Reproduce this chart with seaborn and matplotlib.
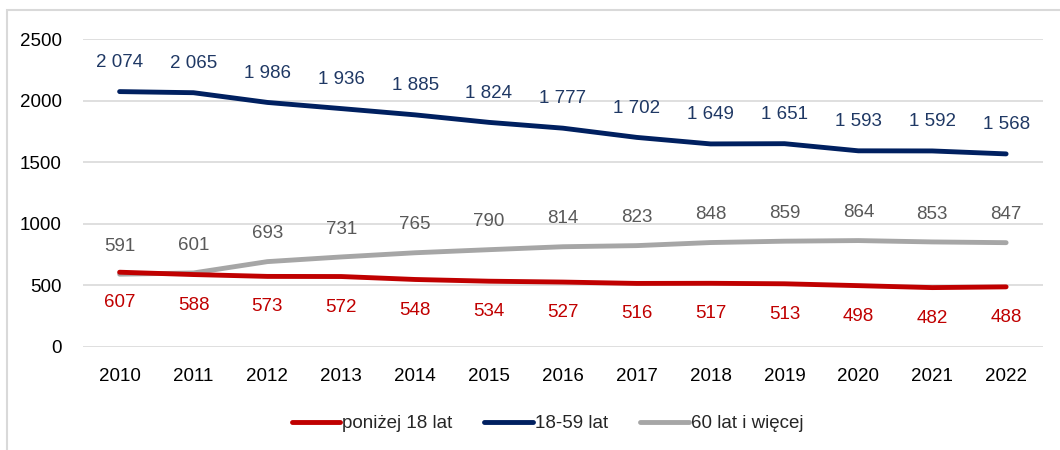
"""
Population by age group, 2010-2022.
"""

import matplotlib.pyplot as plt
import matplotlib.patches as mpatches
import numpy as np
import pandas as pd
import seaborn as sns

years = [str(y) for y in range(2010, 2023)]
under_18 = [607, 588, 573, 572, 548, 534, 527, 516, 517, 513, 498, 482, 488]
age_18_59 = [2074, 2065, 1986, 1936, 1885, 1824, 1777, 1702, 1649, 1651, 1593, 1592, 1568]
age_60_plus = [591, 601, 693, 731, 765, 790, 814, 823, 848, 859, 864, 853, 847]

series_names = ['poniżej 18 lat', '18-59 lat', '60 lat i więcej']
series_values = [under_18, age_18_59, age_60_plus]
line_colors = ['#C00000', '#002060', '#A6A6A6']
label_colors = ['#C00000', '#1F3864', '#595959']
label_offsets = [-22, 21, 20]  # points; negative = below line


def fmt(v):
    return f'{v:,}'.replace(',', ' ')


df = pd.DataFrame({
    'rok': years * 3,
    'wartosc': under_18 + age_18_59 + age_60_plus,
    'grupa': np.repeat(series_names, len(years)),
})

sns.set_style('white')
plt.rcParams['font.family'] = ['Liberation Sans', 'DejaVu Sans']

fig = plt.figure(figsize=(10.6, 4.5), dpi=100)
ax = fig.add_axes([0.078, 0.229, 0.906, 0.684])

# draw 60+ first so the red line sits above it like in the source
order = [2, 1, 0]
for i in order:
    sub = df[df['grupa'] == series_names[i]]
    sns.lineplot(data=sub, x='rok', y='wartosc', ax=ax, color=line_colors[i],
                 linewidth=3.5, solid_capstyle='round', label=series_names[i],
                 sort=False, zorder=3 + (i == 0))

for i, vals in enumerate(series_values):
    for x, v in enumerate(vals):
        ax.annotate(fmt(v), (x, v), xytext=(0, label_offsets[i]),
                    textcoords='offset points', ha='center', va='center',
                    fontsize=13.5, color=label_colors[i])

ax.set_xlim(-0.5, len(years) - 0.5)
ax.set_ylim(0, 2500)
ax.set_yticks(range(0, 2501, 500))
ax.grid(axis='y', color='#D9D9D9', linewidth=1.2)
ax.set_axisbelow(True)
for s in ax.spines.values():
    s.set_visible(False)
ax.tick_params(axis='both', length=0, labelsize=13.5, colors='#000000')
ax.tick_params(axis='x', pad=15)
ax.tick_params(axis='y', pad=15)
ax.set_xlabel('')
ax.set_ylabel('')

handles, labels = ax.get_legend_handles_labels()
lookup = dict(zip(labels, handles))
ax.legend([lookup[n] for n in series_names], series_names,
          loc='center', bbox_to_anchor=(0.484, -0.25), ncol=3, frameon=False,
          fontsize=13.5, handlelength=2.6, handletextpad=0.1, columnspacing=1.7)

fig.patches.append(mpatches.Rectangle((7 / 1060, -0.01), 1.1, 1 - 10 / 450 + 0.01,
                                      transform=fig.transFigure, fill=False,
                                      edgecolor='#D9D9D9', linewidth=1.5))

fig.savefig('out.png', dpi=100)
